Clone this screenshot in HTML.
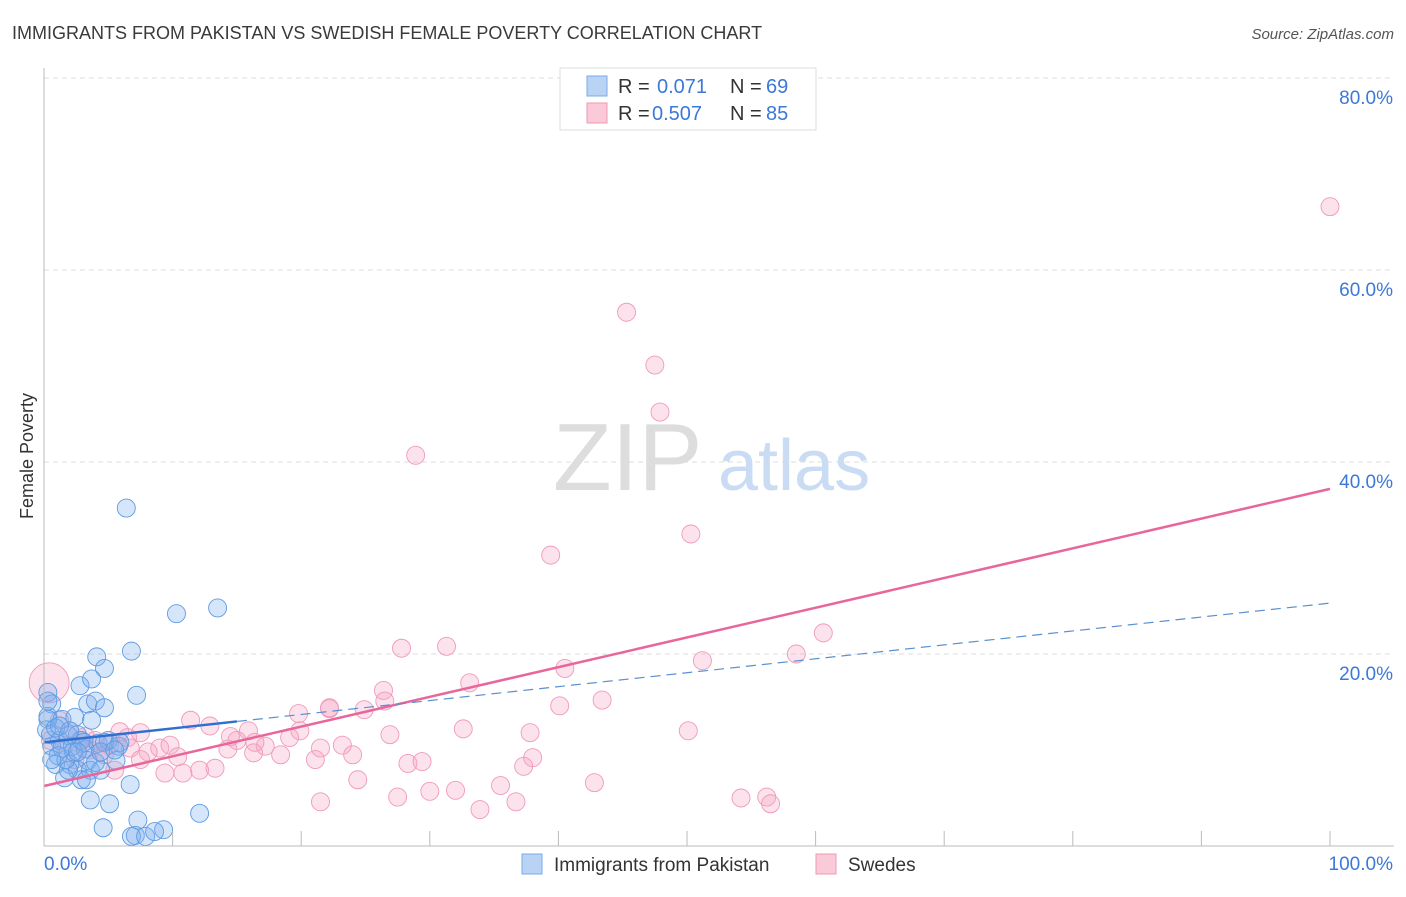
<!DOCTYPE html>
<html><head><meta charset="utf-8"><style>
body{margin:0;background:#fff;font-family:"Liberation Sans",sans-serif;}
svg text{font-family:"Liberation Sans",sans-serif;}
</style></head><body>
<svg id="chart" width="1406" height="892" xmlns="http://www.w3.org/2000/svg">
<text x="12" y="39" font-size="18" fill="#3a3a3a">IMMIGRANTS FROM PAKISTAN VS SWEDISH FEMALE POVERTY CORRELATION CHART</text>
<text x="1394" y="39" font-size="15" fill="#555" text-anchor="end" font-style="italic">Source: ZipAtlas.com</text>
<text transform="translate(33,456) rotate(-90)" font-size="18" fill="#333" text-anchor="middle">Female Poverty</text>
<g id="grid"></g>
<text x="553" y="490" font-size="96" fill="#ddd" font-family="Liberation Serif">ZIP</text>
<text x="718" y="490" font-size="72" fill="#c9dcf3">atlas</text>
<g id="points"></g>
<g id="trends"></g>
<g id="axes"></g>
<g>
<rect x="560" y="68" width="256" height="62" fill="#fff" stroke="#ddd"/>
<rect x="587" y="76" width="20" height="20" fill="#b9d3f5" stroke="#7aabe8"/>
<text x="618" y="93" font-size="20" fill="#333">R = </text><text x="657" y="93" font-size="20" fill="#3b78d8">0.071</text>
<text x="730" y="93" font-size="20" fill="#333">N = </text><text x="766" y="93" font-size="20" fill="#3b78d8">69</text>
<rect x="587" y="103" width="20" height="20" fill="#fbcad8" stroke="#ef9ab5"/>
<text x="618" y="120" font-size="20" fill="#333">R = </text><text x="652" y="120" font-size="20" fill="#3b78d8">0.507</text>
<text x="730" y="120" font-size="20" fill="#333">N = </text><text x="766" y="120" font-size="20" fill="#3b78d8">85</text>
</g>
<g>
<rect x="522" y="854" width="20" height="20" fill="#b9d3f5" stroke="#7aabe8"/>
<text x="554" y="871" font-size="19" fill="#333">Immigrants from Pakistan</text>
<rect x="816" y="854" width="20" height="20" fill="#fbcad8" stroke="#ef9ab5"/>
<text x="848" y="871" font-size="19" fill="#333">Swedes</text>
</g>
</svg>
<script>
const yTicks=[20,40,60,80];
const yTickLabels=["20.0%","40.0%","60.0%","80.0%"];
const xTickVals=[0,10,20,30,40,50,60,70,80,90,100];
const blueX=[6.4,13.5,10.3,6.8,4.1,4.7,2.8,3.7,7.2,0.3,0.6,0.3,1.4,2.4,3.4,4.0,4.7,2.6,3.7,2.9,1.2,1.9,0.6,1.1,2.2,3.2,4.2,5.0,5.8,5.6,3.4,2.0,2.6,1.6,0.9,3.6,4.4,2.9,3.3,1.9,6.7,3.6,5.1,12.1,4.6,7.3,7.1,6.8,7.9,9.3,8.6,0.3,0.2,0.5,0.9,1.7,2.3,4.0,4.7,5.9,1.4,3.1,2.6,0.6,2.0,1.2,0.3,4.4,5.5];
const blueY=[35.2,24.8,24.2,20.3,19.7,18.5,16.7,17.4,15.7,16.0,14.8,13.5,13.2,13.4,14.8,15.1,14.4,11.6,13.1,11.0,11.0,11.5,10.4,9.4,10.4,10.1,10.7,11.0,10.4,8.9,8.9,8.5,7.9,7.1,8.5,7.9,7.9,6.9,6.9,7.9,6.4,4.8,4.4,3.4,1.9,2.7,1.1,1.0,1.0,1.7,1.5,13.2,12.1,11.6,12.3,9.0,9.8,8.7,10.8,10.8,10.2,10.8,9.8,9.0,12.0,12.5,15.1,9.8,10.0];
const pinkX=[100,45.3,47.5,47.9,28.9,39.4,50.3,60.6,51.2,58.5,27.8,31.3,40.5,33.1,26.4,43.4,40.1,22.2,24.9,11.4,19.8,15.9,12.9,15.0,17.2,19.1,21.5,23.2,26.9,32.6,50.1,37.8,24.0,18.4,21.1,16.3,14.3,9.0,8.1,6.7,5.1,3.97,4.4,6.5,7.5,5.9,9.8,10.4,12.1,13.3,10.8,9.4,28.3,29.4,38.0,37.3,24.4,42.8,27.5,30.0,32.0,35.5,36.7,33.9,21.5,54.2,56.2,56.5,0.4,1.2,2.0,2.8,1.6,3.6,4.7,2.4,3.2,0.5,5.5,7.5,14.5,19.9,16.4,26.5,22.2];
const pinkY=[66.6,55.6,50.1,45.2,40.7,30.3,32.5,22.2,19.3,20.0,20.6,20.8,18.5,17.0,16.2,15.2,14.6,14.3,14.2,13.1,13.8,12.0,12.5,11.0,10.4,11.3,10.2,10.5,11.6,12.2,12.0,11.8,9.5,9.5,9.0,9.7,10.1,10.2,9.8,10.2,10.5,11.0,9.8,11.3,11.8,11.9,10.5,9.3,7.9,8.1,7.6,7.6,8.6,8.8,9.2,8.3,6.9,6.6,5.1,5.7,5.8,6.3,4.6,3.8,4.6,5.0,5.1,4.4,17.0,13.1,12.0,11.0,10.5,10.0,9.5,9.0,11.4,11.0,7.9,9.0,11.4,12.0,10.8,15.1,14.4];
const blueTrend=[10.8,25.3], pinkTrend=[6.25,37.2];
const NS="http://www.w3.org/2000/svg";
const X=v=>44+v*12.86, Y=v=>846-v*9.6;
function mk(tag,attrs,parent){const e=document.createElementNS(NS,tag);for(const k in attrs)e.setAttribute(k,attrs[k]);parent.appendChild(e);return e;}
const grid=document.getElementById('grid'), axes=document.getElementById('axes');
yTicks.forEach((t,i)=>{
 const l=mk('line',{x1:44,x2:1394,y1:Y(t),y2:Y(t),stroke:'#ddd','stroke-dasharray':'5,4'},grid);
 
 
 const tx=mk('text',{x:1393,y:Y(t)+26,'font-size':19,fill:'#3b78d8','text-anchor':'end'},axes);
 tx.textContent=yTickLabels[i];
 
 
});
mk('line',{x1:44,x2:44,y1:68,y2:846,stroke:'#bbb'},axes);
mk('line',{x1:44,x2:1394,y1:846,y2:846,stroke:'#bbb'},axes);
xTickVals.forEach(v=>{const t=mk('line',{x1:X(v),x2:X(v),y1:831,y2:846,stroke:'#bbb'},axes);
 
 });
const x0=mk('text',{x:44,y:870,'font-size':19,fill:'#3b78d8'},axes);x0.textContent='0.0%';


const x1=mk('text',{x:1393,y:870,'font-size':19,fill:'#3b78d8','text-anchor':'end'},axes);x1.textContent='100.0%';


const pts=document.getElementById('points');
pinkX.forEach((x,i)=>{const c=mk('circle',{cx:X(x),cy:Y(pinkY[i]),r:(i==68?20:9),fill:'rgba(245,165,195,0.32)',stroke:'#f09ab8','stroke-width':0.9},pts);
 
 });
blueX.forEach((x,i)=>{const c=mk('circle',{cx:X(x),cy:Y(blueY[i]),r:9,fill:'rgba(125,175,238,0.32)',stroke:'#5f9be2','stroke-width':0.9},pts);
 
 });
const tr=document.getElementById('trends');
const bl=v=>blueTrend[0]+(blueTrend[1]-blueTrend[0])*v/100, pl=v=>pinkTrend[0]+(pinkTrend[1]-pinkTrend[0])*v/100;
const t1=mk('line',{x1:X(0),y1:Y(pl(0)),x2:X(100),y2:Y(pl(100)),stroke:'#e8669a','stroke-width':2.5},tr);


const t2=mk('line',{x1:X(15),y1:Y(bl(15)),x2:X(100),y2:Y(bl(100)),stroke:'#5a8fd0','stroke-width':1.2,'stroke-dasharray':'10,6'},tr);


const t3=mk('line',{x1:X(0),y1:Y(bl(0)),x2:X(15),y2:Y(bl(15)),stroke:'#2f6fd0','stroke-width':2.5},tr);


</script>
</body></html>
